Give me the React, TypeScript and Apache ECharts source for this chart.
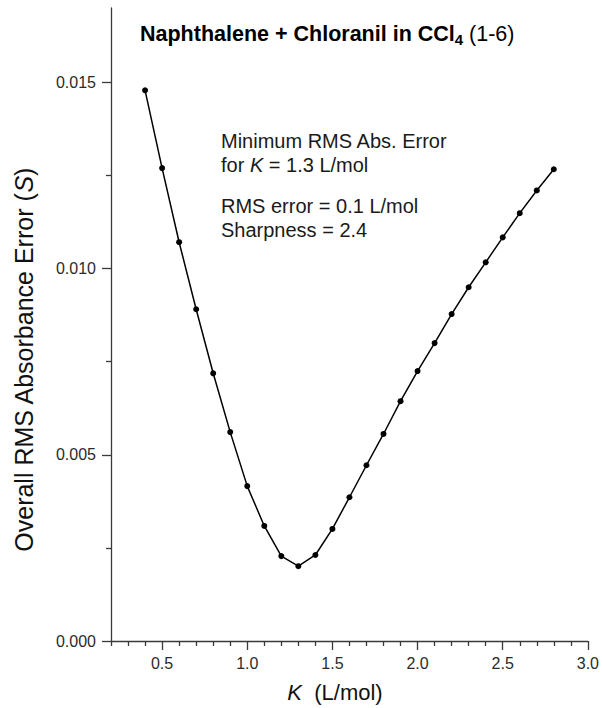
import React, { useEffect, useRef } from "react";
import * as echarts from "echarts";

const kValues = [0.4, 0.5, 0.6, 0.7, 0.8, 0.9, 1.0, 1.1, 1.2, 1.3, 1.4, 1.5, 1.6, 1.7, 1.8, 1.9, 2.0, 2.1, 2.2, 2.3, 2.4, 2.5, 2.6, 2.7, 2.8];
const rmsError = [0.01479, 0.0127, 0.01071, 0.00891, 0.00719, 0.00561, 0.00416, 0.00309, 0.00228, 0.00201, 0.00231, 0.00301, 0.00386, 0.00472, 0.00556, 0.00644, 0.00725, 0.008, 0.00878, 0.0095, 0.01017, 0.01084, 0.01149, 0.0121, 0.01267];
const xMajorTicks = [0.5, 1.0, 1.5, 2.0, 2.5, 3.0];
const xMinorTicks = [0.2, 0.3, 0.4, 0.6, 0.7, 0.8, 0.9, 1.1, 1.2, 1.3, 1.4, 1.6, 1.7, 1.8, 1.9, 2.1, 2.2, 2.3, 2.4, 2.6, 2.7, 2.8, 2.9];
const yMajorTicks = [0, 0.005, 0.01, 0.015];
const yMinorTicks = [0.0025, 0.0075, 0.0125];

const FONT = "'Liberation Sans', Arial, sans-serif";
const AXIS_COLOR = "#3a3a3a";
const LABEL_COLOR = "#2b2b2b";

export default function App() {
  const ref = useRef<HTMLDivElement>(null);
  useEffect(() => {
    if (!ref.current) return;
    const chart = echarts.init(ref.current, undefined, { renderer: "svg" });
    const data = kValues.map((k, i) => [k, rmsError[i]]);
    chart.setOption({
      animation: false,
      backgroundColor: "#ffffff",
      textStyle: { fontFamily: FONT },
      grid: { left: 111, right: 14, top: 8, bottom: 67, containLabel: false },
      xAxis: [
        {
          type: "value",
          min: 0.2,
          max: 3.0,
          position: "bottom",
          axisLine: { show: true, lineStyle: { color: AXIS_COLOR, width: 1.3 } },
          axisTick: { show: true, inside: false, length: 9, customValues: xMajorTicks, lineStyle: { color: AXIS_COLOR, width: 1.3 } },
          axisLabel: { show: true, customValues: xMajorTicks, margin: 14, fontSize: 16, color: LABEL_COLOR, fontFamily: FONT, formatter: (v: number) => v.toFixed(1) },
          splitLine: { show: false },
        },
        {
          type: "value",
          min: 0.2,
          max: 3.0,
          position: "bottom",
          axisLine: { show: false },
          axisTick: { show: true, inside: false, length: 5, customValues: xMinorTicks, lineStyle: { color: AXIS_COLOR, width: 1.3 } },
          axisLabel: { show: false },
          splitLine: { show: false },
        },
      ],
      yAxis: [
        {
          type: "value",
          min: 0,
          max: 0.017,
          position: "left",
          axisLine: { show: true, lineStyle: { color: AXIS_COLOR, width: 1.3 } },
          axisTick: { show: true, inside: false, length: 9, customValues: yMajorTicks, lineStyle: { color: AXIS_COLOR, width: 1.3 } },
          axisLabel: { show: true, customValues: yMajorTicks, margin: 15, fontSize: 16, color: LABEL_COLOR, fontFamily: FONT, formatter: (v: number) => v.toFixed(3) },
          splitLine: { show: false },
        },
        {
          type: "value",
          min: 0,
          max: 0.017,
          position: "left",
          axisLine: { show: false },
          axisTick: { show: true, inside: false, length: 5, customValues: yMinorTicks, lineStyle: { color: AXIS_COLOR, width: 1.3 } },
          axisLabel: { show: false },
          splitLine: { show: false },
        },
      ],
      series: [
        {
          type: "line",
          xAxisIndex: 0,
          yAxisIndex: 0,
          data,
          symbol: "circle",
          symbolSize: 6,
          lineStyle: { color: "#000", width: 1.5 },
          itemStyle: { color: "#000" },
        },
      ],
      graphic: [
        {
          type: "text",
          x: 140,
          y: 34,
          style: {
            text: "{b|Naphthalene + Chloranil in CCl}{sub|4}{n| (1-6)}",
            verticalAlign: "middle",
            rich: {
              b: { fontSize: 21.5, fontWeight: "bold", fontFamily: FONT, fill: "#000", lineHeight: 28 },
              sub: { fontSize: 15, fontWeight: "bold", fontFamily: FONT, fill: "#000", padding: [10, 0, 0, 0], lineHeight: 28 },
              n: { fontSize: 21.5, fontFamily: FONT, fill: "#000", lineHeight: 28 },
            },
          },
        },
        {
          type: "text",
          x: 221,
          y: 153,
          style: {
            text: "Minimum RMS Abs. Error\n{t|for }{i|K}{t| = 1.3 L/mol}",
            fontSize: 20,
            fontFamily: FONT,
            fill: "#1a1a1a",
            lineHeight: 24,
            verticalAlign: "middle",
            rich: {
              t: { fontSize: 20, fontFamily: FONT, fill: "#1a1a1a", lineHeight: 24 },
              i: { fontSize: 20, fontFamily: FONT, fontStyle: "italic", fill: "#1a1a1a", lineHeight: 24 },
            },
          },
        },
        {
          type: "text",
          x: 221,
          y: 218,
          style: {
            text: "RMS error = 0.1 L/mol\nSharpness = 2.4",
            fontSize: 20,
            fontFamily: FONT,
            fill: "#1a1a1a",
            lineHeight: 24,
            verticalAlign: "middle",
          },
        },
        {
          type: "text",
          x: 24,
          y: 360,
          rotation: Math.PI / 2,
          style: {
            text: "{t|Overall RMS Absorbance Error (}{i|S}{t|)}",
            align: "center",
            verticalAlign: "middle",
            rich: {
              t: { fontSize: 25, fontFamily: FONT, fill: "#111" },
              i: { fontSize: 25, fontFamily: FONT, fontStyle: "italic", fill: "#111" },
            },
          },
        },
        {
          type: "text",
          x: 335,
          y: 692,
          style: {
            text: "{i|K}{t|  (L/mol)}",
            align: "center",
            verticalAlign: "middle",
            rich: {
              t: { fontSize: 22, fontFamily: FONT, fill: "#111" },
              i: { fontSize: 22, fontFamily: FONT, fontStyle: "italic", fill: "#111" },
            },
          },
        },
      ],
    });
    return () => chart.dispose();
  }, []);
  return <div ref={ref} style={{ width: 602, height: 708, position: "absolute", left: 0, top: 0 }} />;
}
